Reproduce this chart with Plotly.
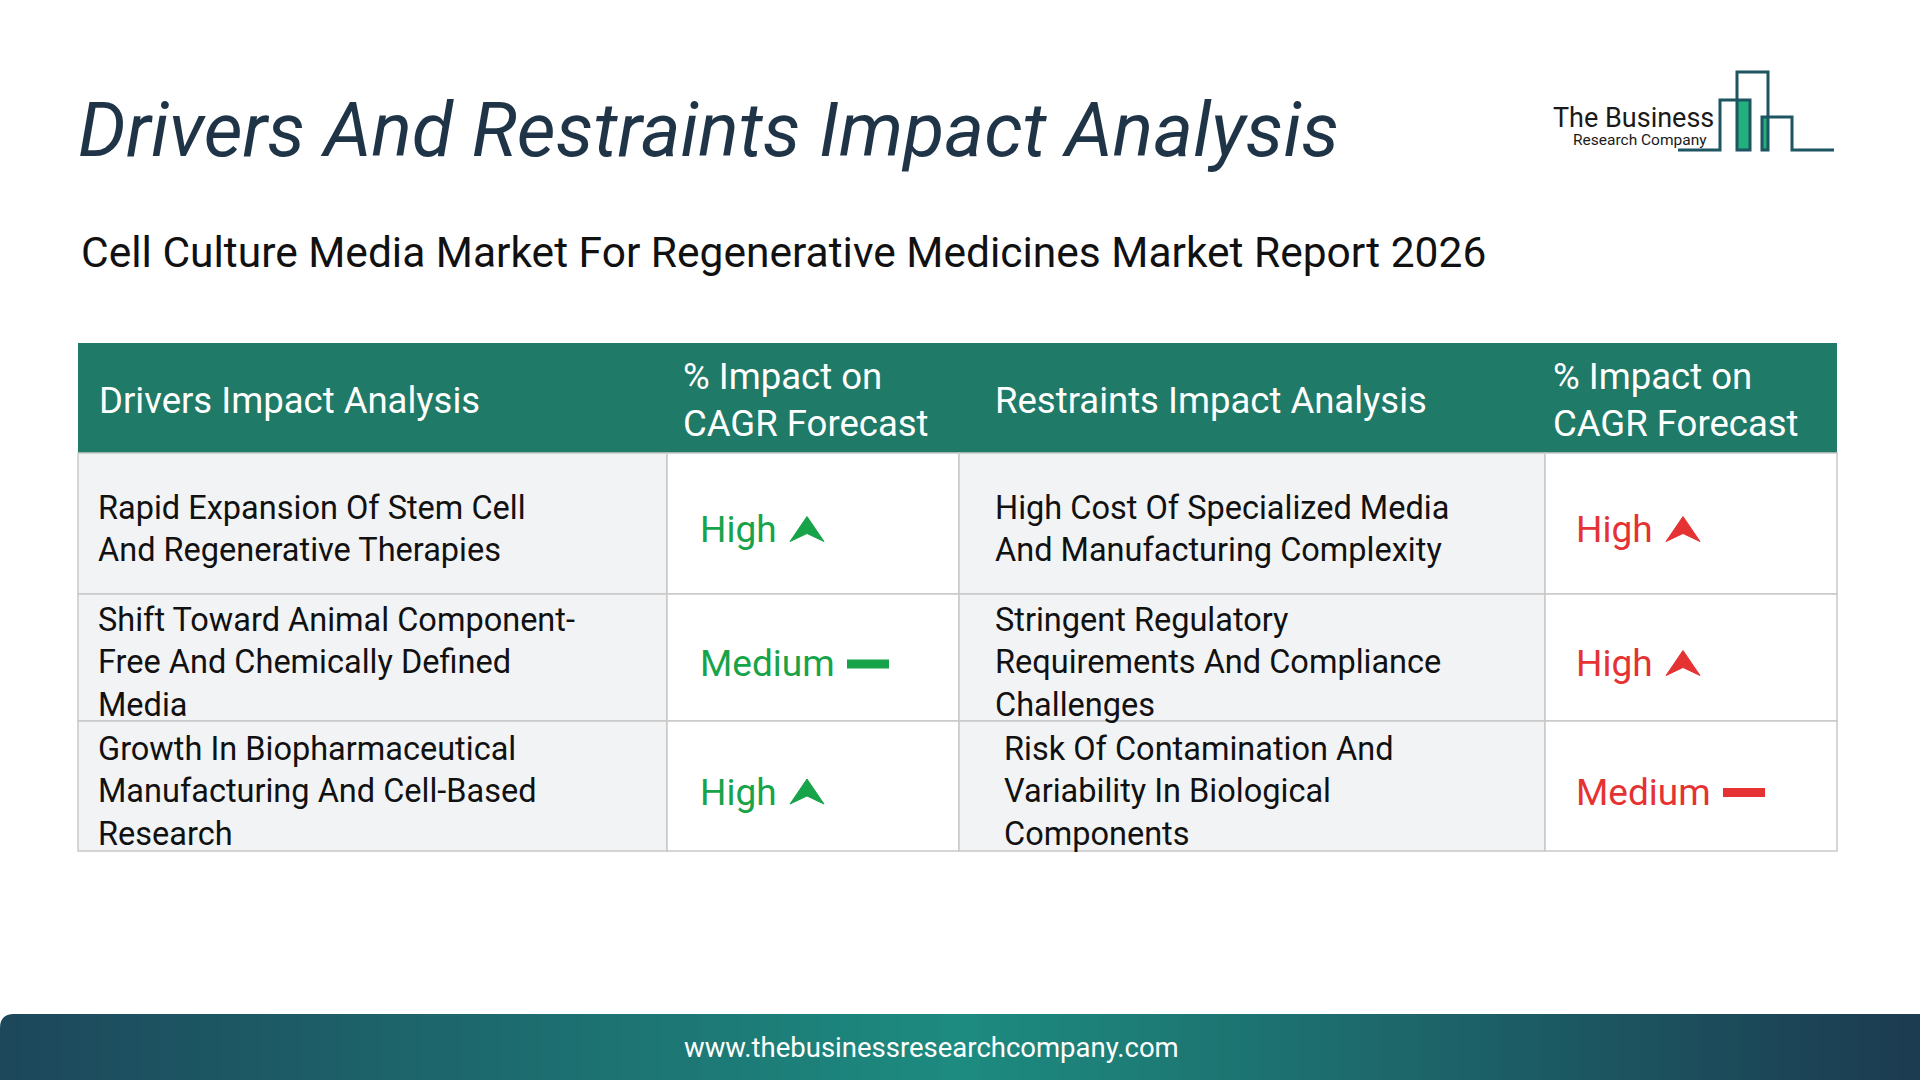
import plotly.graph_objects as go

title = "Drivers And Restraints Impact Analysis"
subtitle = "Cell Culture Media Market For Regenerative Medicines Market Report 2026"
headers = ["Drivers Impact Analysis", "% Impact on<br>CAGR Forecast",
           "Restraints Impact Analysis", "% Impact on<br>CAGR Forecast"]
drivers = ["Rapid Expansion Of Stem Cell<br>And Regenerative Therapies",
           "Shift Toward Animal Component-<br>Free And Chemically Defined<br>Media",
           "Growth In Biopharmaceutical<br>Manufacturing And Cell-Based<br>Research"]
driver_impact = ["High", "Medium", "High"]
restraints = ["High Cost Of Specialized Media<br>And Manufacturing Complexity",
              "Stringent Regulatory<br>Requirements And Compliance<br>Challenges",
              "Risk Of Contamination And<br>Variability In Biological<br>Components"]
restraint_impact = ["High", "High", "Medium"]
footer = "www.thebusinessresearchcompany.com"

W, H = 1920, 1080
col_x = [78, 667, 959, 1545, 1837]
row_y = [343, 453, 594, 721, 851]
HEAD = "#1f7a67"
GREEN = "#17a34a"
RED = "#e53232"
GRID = "#c9c9c9"

shapes, ann = [], []

def rect(x0, y0, x1, y1, fill, line=None, lw=0):
    shapes.append(dict(type="rect", x0=x0, y0=y0, x1=x1, y1=y1, fillcolor=fill,
                       line=dict(color=line or fill, width=lw), layer="below"))

def text(x, y, t, size, color, xanchor="left", yanchor="middle", style="normal", family="Roboto"):
    ann.append(dict(x=x, y=y, text=t, showarrow=False, xanchor=xanchor, yanchor=yanchor, align="left",
                    font=dict(size=size, color=color, family=family, style=style)))

# title
text(76, 130, title, 75.5, "#1f3447", style="italic")
text(79, 252, subtitle, 42.5, "#111111")

# logo
text(1716, 118, "The Business", 27, "#1a1a1a", xanchor="right")
text(1709, 140, "Research Company", 15.5, "#1a1a1a", xanchor="right")
lc = "#1d5560"
rect(1737, 100, 1750, 150, "#22b07d")
rect(1762, 117, 1768, 150, "#22b07d")
shapes.append(dict(type="path", path="M1678,150 L1720,150 L1720,100 L1750,100 L1750,150 L1737,150 L1737,72 L1768,72 L1768,150 L1762,150 L1762,117 L1792,117 L1792,150 L1834,150",
                   line=dict(color=lc, width=3)))

# header
rect(col_x[0], row_y[0], col_x[4], row_y[1], HEAD)
head_x = [97, 681, 993, 1551]
for hx, h in zip(head_x, headers):
    text(hx, (row_y[0] + row_y[1]) / 2 + 2, h, 36.5, "white")

# body
for i in range(3):
    y0, y1 = row_y[i + 1], row_y[i + 2]
    for c in range(4):
        fill = "#f2f3f5" if c in (0, 2) else "white"
        rect(col_x[c], y0, col_x[c + 1], y1, fill, GRID, 1.5)
    ym = (y0 + y1) / 2 + 5
    text(96, ym, drivers[i], 32.5, "#111111")
    text(993 if i < 2 else 1002, ym, restraints[i], 32.5, "#111111")
    for xs, lab, col in ((698, driver_impact[i], GREEN), (1574, restraint_impact[i], RED)):
        yi = ym + (1 if lab == "High" else 1)
        text(xs, yi, lab, 37, col)
        if lab == "High":
            ax = xs + 92
            shapes.append(dict(type="path",
                               path=f"M{ax},{yi+12} L{ax+17},{yi-13} L{ax+34},{yi+12} L{ax+17},{yi+4} Z",
                               fillcolor=col, line=dict(color=col, width=1)))
        else:
            ax = xs + 149
            rect(ax, yi - 4, ax + 42, yi + 5, col)

# footer gradient
stops = [(29, 72, 92), (30, 140, 128), (28, 60, 82)]
n = 96
for k in range(n):
    t = k / (n - 1)
    if t <= 0.5:
        a, b, f = stops[0], stops[1], t / 0.5
    else:
        a, b, f = stops[1], stops[2], (t - 0.5) / 0.5
    c = tuple(int(a[j] + (b[j] - a[j]) * f) for j in range(3))
    rect(k * W / n, 1014, (k + 1) * W / n + 1, 1080, f"rgb{c}")
shapes.append(dict(type="path", path="M0,1014 L14,1014 Q0,1014 0,1028 Z", fillcolor="white",
                   line=dict(width=0)))
text(931, 1047, footer, 27.5, "white", xanchor="center")

fig = go.Figure()
fig.update_layout(width=W, height=H, margin=dict(l=0, r=0, t=0, b=0),
                  paper_bgcolor="white", plot_bgcolor="white",
                  xaxis=dict(range=[0, W], visible=False, fixedrange=True),
                  yaxis=dict(range=[H, 0], visible=False, fixedrange=True),
                  shapes=shapes, annotations=ann, showlegend=False)
fig.write_html("out.html", config={"displayModeBar": False},
               post_script="document.body.style.margin='0';document.body.style.overflow='hidden';")
